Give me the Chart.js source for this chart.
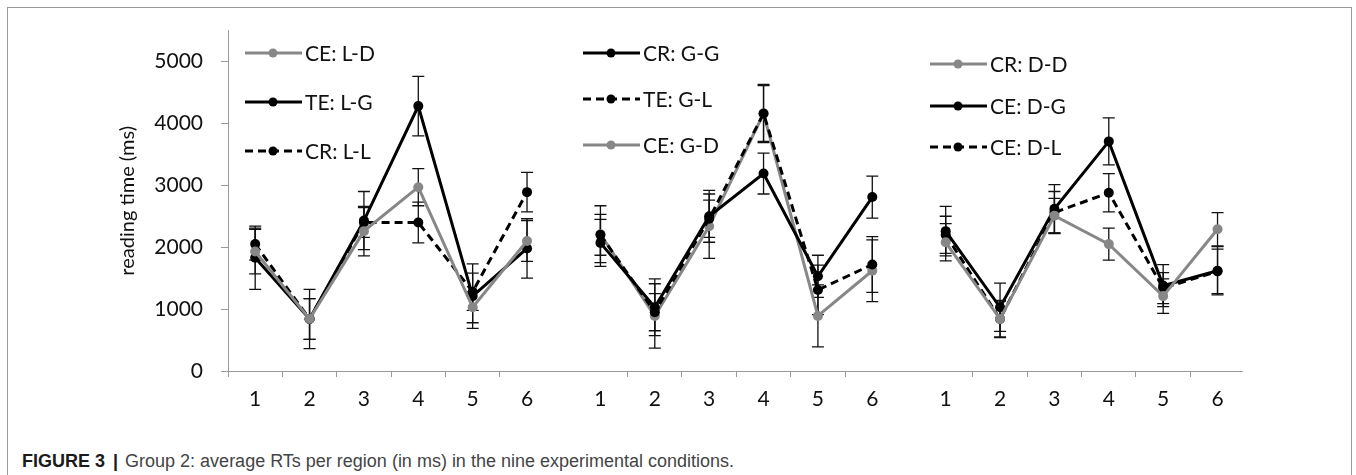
<!DOCTYPE html>
<html>
<head>
<meta charset="utf-8">
<script src="https://cdn.jsdelivr.net/npm/chart.js@4.4.0/dist/chart.umd.min.js"></script>
<style>
    html, body { margin: 0; padding: 0; background: #fff; }
    body { width: 1356px; height: 475px; position: relative; overflow: hidden; }
    #frame { position: absolute; left: 7px; top: 7px; width: 1345px; height: 490px; border: 1px solid #9a9a9a; box-sizing: border-box; }
    #wrap { position: absolute; left: 0; top: 0; width: 1356px; height: 440px; }
    #caption { position: absolute; left: 22px; top: 451px; font-family: "Liberation Sans", Arial, sans-serif; font-size: 18px; color: #444; white-space: nowrap; }
    #caption b { color: #1a1a1a; }
    #caption .bar { margin: 0 7px 0 8px; }
</style>
</head>
<body>
<div id="frame"></div>
<div id="wrap"><canvas id="rtChart"></canvas></div>
<div id="caption"><b>FIGURE 3</b><b class="bar">|</b>Group 2: average RTs per region (in ms) in the nine experimental conditions.</div>

<script>
// regions on the x axis, repeated in each of the three panels
const regions = ['1', '2', '3', '4', '5', '6'];
const yTicks = [0, 1000, 2000, 3000, 4000, 5000];

// panel 1 (L)
const ceLD = [1930, 840, 2260, 2970, 1030, 2100];
const ceLDErr = [360, 330, 400, 300, 250, 330];
const teLG = [1830, 840, 2430, 4280, 1210, 1980];
const teLGErr = [510, 480, 470, 480, 520, 480];
const crLL = [2050, 840, 2400, 2400, 1280, 2890];
const crLLErr = [260, 330, 240, 330, 300, 320];

// panel 2 (G)
const crGG = [2070, 1030, 2500, 3190, 1530, 2810];
const crGGErr = [380, 460, 420, 330, 340, 340];
const teGL = [2200, 950, 2460, 4160, 1310, 1720];
const teGLErr = [330, 300, 300, 470, 400, 450];
const ceGD = [2210, 890, 2340, 4160, 890, 1620];
const ceGDErr = [460, 520, 520, 450, 500, 500];

// panel 3 (D)
const crDD = [2080, 840, 2510, 2050, 1210, 2290];
const crDDErr = [300, 290, 280, 260, 280, 270];
const ceDG = [2260, 1030, 2620, 3710, 1380, 1620];
const ceDGErr = [400, 390, 390, 380, 340, 390];
const ceDL = [2200, 840, 2560, 2880, 1340, 1610];
const ceDLErr = [300, 300, 340, 310, 250, 360];

// where each panel starts along the shared x axis
const panelShift = [0, 6.35, 12.7];

const series = [
    { label: 'CE: L-D', values: ceLD, errors: ceLDErr, panel: 0, style: 'gray' },
    { label: 'TE: L-G', values: teLG, errors: teLGErr, panel: 0, style: 'solid' },
    { label: 'CR: L-L', values: crLL, errors: crLLErr, panel: 0, style: 'dash' },
    { label: 'CR: G-G', values: crGG, errors: crGGErr, panel: 1, style: 'solid' },
    { label: 'TE: G-L', values: teGL, errors: teGLErr, panel: 1, style: 'dash' },
    { label: 'CE: G-D', values: ceGD, errors: ceGDErr, panel: 1, style: 'gray' },
    { label: 'CR: D-D', values: crDD, errors: crDDErr, panel: 2, style: 'gray' },
    { label: 'CE: D-G', values: ceDG, errors: ceDGErr, panel: 2, style: 'solid' },
    { label: 'CE: D-L', values: ceDL, errors: ceDLErr, panel: 2, style: 'dash' }
];

const styles = {
    gray: { color: '#878787', dash: [] },
    solid: { color: '#000000', dash: [] },
    dash: { color: '#000000', dash: [8, 5] }
};

const AXIS_GRAY = '#9a9a9a';
const FONT = 'Lato';

// x ticks: labels at the region centres, tick marks between regions
const tickLabels = new Map();
const tickMarks = new Set(['0.50']);
panelShift.forEach(shift => {
    regions.forEach((r, i) => {
        tickLabels.set((i + 1 + shift).toFixed(2), r);
        if (i < regions.length - 1) tickMarks.add((i + 1.5 + shift).toFixed(2));
    });
});
const xTickValues = [...tickLabels.keys(), ...tickMarks].map(Number).sort((a, b) => a - b);

const datasets = series.map(s => ({
    label: s.label,
    data: s.values.map((v, i) => ({ x: i + 1 + panelShift[s.panel], y: v })),
    errors: s.errors,
    panel: s.panel,
    borderColor: styles[s.style].color,
    backgroundColor: styles[s.style].color,
    borderDash: styles[s.style].dash,
    borderWidth: 3,
    pointRadius: 5,
    pointBorderWidth: 0,
    pointBackgroundColor: styles[s.style].color,
    tension: 0,
    fill: false
}));

const errorBars = {
    id: 'errorBars',
    beforeDatasetsDraw(chart) {
        const ctx = chart.ctx;
        const yScale = chart.scales.y;
        ctx.save();
        ctx.strokeStyle = '#111';
        ctx.lineWidth = 1.3;
        chart.data.datasets.forEach((ds, i) => {
            chart.getDatasetMeta(i).data.forEach((pt, j) => {
                const v = ds.data[j].y;
                const e = ds.errors[j];
                const top = yScale.getPixelForValue(v + e);
                const bot = yScale.getPixelForValue(v - e);
                ctx.beginPath();
                ctx.moveTo(pt.x, top);
                ctx.lineTo(pt.x, bot);
                ctx.moveTo(pt.x - 6, top);
                ctx.lineTo(pt.x + 6, top);
                ctx.moveTo(pt.x - 6, bot);
                ctx.lineTo(pt.x + 6, bot);
                ctx.stroke();
            });
        });
        ctx.restore();
    }
};

// one small legend in the top of every panel
const legendSpots = [
    { x: 245, y: [53, 102, 151] },
    { x: 583, y: [53, 99, 145] },
    { x: 930, y: [64, 106, 147] }
];

const panelLegends = {
    id: 'panelLegends',
    afterDraw(chart) {
        const ctx = chart.ctx;
        const count = [0, 0, 0];
        ctx.save();
        chart.data.datasets.forEach(ds => {
            const spot = legendSpots[ds.panel];
            const y = spot.y[count[ds.panel]++];
            const x = spot.x;
            ctx.strokeStyle = ds.borderColor;
            ctx.lineWidth = 3;
            ctx.setLineDash(ds.borderDash);
            ctx.beginPath();
            ctx.moveTo(x, y);
            ctx.lineTo(x + 57, y);
            ctx.stroke();
            ctx.setLineDash([]);
            ctx.fillStyle = ds.borderColor;
            ctx.beginPath();
            ctx.arc(x + 28, y, 4.5, 0, Math.PI * 2);
            ctx.fill();
            ctx.fillStyle = '#111';
            ctx.font = `21px ${FONT}`;
            ctx.textBaseline = 'middle';
            ctx.fillText(ds.label, x + 60, y + 1);
        });
        ctx.restore();
    }
};

new Chart(document.getElementById('rtChart'), {
    type: 'line',
    data: { datasets },
    plugins: [errorBars, panelLegends],
    options: {
        responsive: true,
        maintainAspectRatio: false,
        animation: false,
        layout: { padding: { left: 116, right: 114, top: 26, bottom: 19 } },
        plugins: {
            legend: { display: false },
            tooltip: { enabled: false }
        },
        scales: {
            x: {
                type: 'linear',
                min: 0.5,
                max: 19.15,
                afterBuildTicks: scale => { scale.ticks = xTickValues.map(v => ({ value: v })); },
                afterFit: scale => { scale.height = 50; },
                ticks: {
                    autoSkip: false,
                    maxRotation: 0,
                    padding: 10,
                    color: '#111',
                    font: { family: FONT, size: 21 },
                    callback: v => tickLabels.get(Number(v).toFixed(2)) || ''
                },
                grid: {
                    drawOnChartArea: false,
                    tickLength: 6,
                    color: c => (c.tick && tickMarks.has(c.tick.value.toFixed(2))) ? AXIS_GRAY : 'rgba(0,0,0,0)'
                },
                border: { color: AXIS_GRAY, width: 1 }
            },
            y: {
                min: 0,
                max: 5500,
                afterBuildTicks: scale => { scale.ticks = yTicks.map(v => ({ value: v })); },
                afterFit: scale => { scale.width = 112; },
                ticks: {
                    padding: 18,
                    color: '#111',
                    font: { family: FONT, size: 21 },
                    callback: v => String(v)
                },
                grid: { drawOnChartArea: false, tickLength: 7, color: AXIS_GRAY },
                border: { color: AXIS_GRAY, width: 1 },
                title: {
                    display: true,
                    text: 'reading time (ms)',
                    color: '#111',
                    padding: 0,
                    font: { family: FONT, size: 20 }
                }
            }
        }
    }
});
</script>
</body>
</html>
